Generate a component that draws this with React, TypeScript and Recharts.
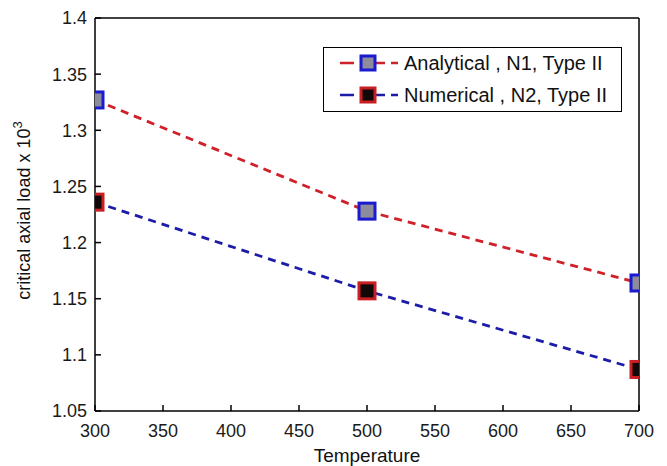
import React from "react";
import { LineChart, Line, XAxis, YAxis, Legend } from "recharts";

const temperatures = [300, 500, 700];
const analytical = [1.327, 1.228, 1.164];
const numerical = [1.236, 1.157, 1.087];
const xTicks = [300, 350, 400, 450, 500, 550, 600, 650, 700];
const yTicks = [1.05, 1.1, 1.15, 1.2, 1.25, 1.3, 1.35, 1.4];
const seriesNames = ["Analytical , N1, Type II", "Numerical , N2, Type II"];

const FONT = "'Liberation Sans', Arial, sans-serif";
const RED = "#d0202a";
const BLUE = "#1c1ca8";
const Y_MIN = 1.05;
const Y_MAX = 1.4;

const series = [
  { key: "analytical", name: seriesNames[0], line: RED, edge: "#1a1ad0", fill: "#8c8c9c" },
  { key: "numerical", name: seriesNames[1], line: BLUE, edge: "#c81e24", fill: "#120808" },
];

const data = temperatures.map((t, i) => ({
  temperature: t,
  analytical: analytical[i],
  numerical: numerical[i],
}));

function squareDot(edge: string, fill: string) {
  return (props: any) => {
    const { cx, cy, index } = props;
    if (cx == null || cy == null) return null;
    return (
      <rect
        key={`dot-${index}`}
        x={cx - 8}
        y={cy - 8}
        width={16}
        height={16}
        fill={fill}
        stroke={edge}
        strokeWidth={3}
      />
    );
  };
}

function renderLegend() {
  return (
    <div
      style={{
        position: "relative",
        width: 299,
        height: 65,
        border: "1.5px solid #000",
        background: "#fff",
        boxSizing: "border-box",
        fontFamily: FONT,
      }}
    >
      <svg width={80} height={65} style={{ position: "absolute", left: 0, top: 0 }}>
        {series.map((s, i) => {
          const y = 15 + i * 32;
          return (
            <g key={s.key}>
              <line x1={16} x2={74} y1={y} y2={y} stroke={s.line} strokeWidth={2.5} strokeDasharray="14 6 7 4" />
              <rect x={37} y={y - 7} width={14} height={14} fill={s.fill} stroke={s.edge} strokeWidth={3} />
            </g>
          );
        })}
      </svg>
      {series.map((s, i) => (
        <div
          key={s.key}
          style={{
            position: "absolute",
            left: 80,
            top: 3 + i * 32,
            fontSize: 20,
            lineHeight: "24px",
            color: "#111",
            whiteSpace: "nowrap",
          }}
        >
          {s.name}
        </div>
      ))}
    </div>
  );
}

const YLabel = (props: any) => {
  const vb = props.viewBox || { x: 0, y: 18, width: 95, height: 393 };
  const cx = 30;
  const cy = vb.y + vb.height / 2 - 4;
  return (
    <text
      transform={`translate(${cx}, ${cy}) rotate(-90)`}
      textAnchor="middle"
      fontSize={18}
      fontFamily={FONT}
      fill="#111"
    >
      critical axial load x 10
      <tspan dy={-8} fontSize={13}>3</tspan>
    </text>
  );
};

const XLabel = (props: any) => {
  const vb = props.viewBox || { x: 95, y: 411, width: 545, height: 55 };
  return (
    <text
      x={vb.x + vb.width / 2}
      y={462}
      textAnchor="middle"
      fontSize={19}
      fontFamily={FONT}
      fill="#111"
    >
      Temperature
    </text>
  );
};

export default function App() {
  const tickStyle = { fill: "#1a1a1a", fontSize: 18, fontFamily: FONT };
  const frame = { stroke: "#000", strokeWidth: 1.5 };
  return (
    <div style={{ position: "absolute", left: 0, top: 0, width: 667, height: 466, background: "#fff" }}>
      <style>{`body{margin:0;background:#fff}`}</style>
      <LineChart
        width={667}
        height={466}
        data={data}
        margin={{ top: 0, right: 27, bottom: 0, left: 0 }}
      >
        <XAxis
          dataKey="temperature"
          type="number"
          domain={[300, 700]}
          ticks={xTicks}
          height={55}
          axisLine={frame}
          tickLine={frame}
          tickSize={-6}
          tickMargin={19}
          tick={tickStyle}
          label={<XLabel />}
          allowDataOverflow
        />
        {/* top frame with inward ticks */}
        <XAxis
          xAxisId="top"
          orientation="top"
          type="number"
          domain={[300, 700]}
          ticks={xTicks}
          height={18}
          axisLine={frame}
          tickLine={frame}
          tickSize={-6}
          tick={false}
          allowDataOverflow
        />
        <YAxis
          type="number"
          domain={[Y_MIN, Y_MAX]}
          ticks={yTicks}
          width={95}
          axisLine={frame}
          tickLine={frame}
          tickSize={-6}
          tickMargin={14}
          tick={tickStyle}
          tickFormatter={(v: number) => String(Number(v.toFixed(2)))}
          label={<YLabel />}
          allowDataOverflow
        />
        <YAxis
          yAxisId="right"
          orientation="right"
          type="number"
          domain={[Y_MIN, Y_MAX]}
          ticks={yTicks}
          width={1}
          axisLine={frame}
          tickLine={frame}
          tickSize={-6}
          tick={false}
          allowDataOverflow
        />
        <Legend
          content={renderLegend}
          layout="horizontal"
          verticalAlign="middle"
          align="center"
          wrapperStyle={{ position: "absolute", top: 47, left: 323, width: 299, height: 65 }}
        />
        {series.map((s) => (
          <Line
            key={s.key}
            type="linear"
            dataKey={s.key}
            name={s.name}
            stroke={s.line}
            strokeWidth={2.8}
            strokeDasharray="8 6"
            dot={squareDot(s.edge, s.fill)}
            activeDot={false}
            isAnimationActive={false}
          />
        ))}
      </LineChart>
    </div>
  );
}
